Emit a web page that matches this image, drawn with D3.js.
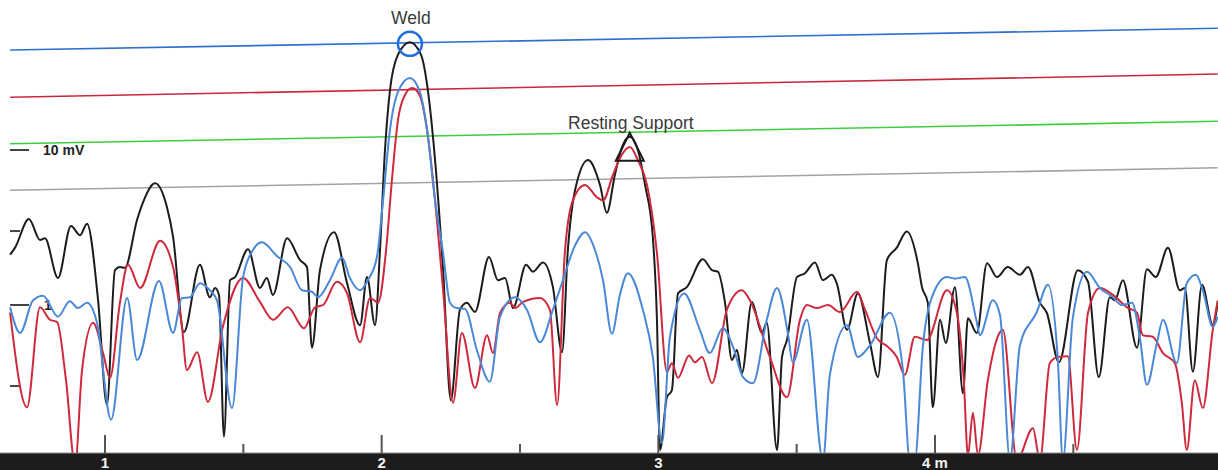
<!DOCTYPE html>
<html>
<head>
<meta charset="utf-8">
<script src="https://cdn.jsdelivr.net/npm/d3@7"></script>
<style>
  body { margin: 0; background: #fff; }
  svg { display: block; font-family: "Liberation Sans", Arial, sans-serif; }
</style>
</head>
<body>
<svg id="chart" width="1218" height="470"></svg>
<script>
// distance along pipe (m) / amplitude (dB re 1 mV)
const blackTrace = [
  [0.657,6.5],[0.675,7.4],[0.725,11.1],[0.765,8.4],[0.783,8.6],[0.830,3.5],[0.877,10.2],[0.910,9.0],
  [0.935,10.5],[0.975,0.6],[1.007,-12.9],[1.036,4.5],[1.054,4.9],[1.072,4.8],[1.116,11.0],[1.137,13.2],
  [1.181,15.7],[1.224,12.6],[1.246,8.8],[1.285,-3.5],[1.343,5.2],[1.379,1.0],[1.398,2.2],[1.412,1.3],
  [1.430,-17.0],[1.452,3.2],[1.470,3.6],[1.517,7.2],[1.560,2.2],[1.585,3.5],[1.607,1.3],[1.658,8.6],
  [1.705,5.8],[1.730,4.9],[1.748,-5.5],[1.777,4.5],[1.828,9.4],[1.875,2.8],[1.922,-2.6],[1.947,3.6],
  [1.976,-2.6],[1.994,7.1],[2.012,20.0],[2.030,27.7],[2.059,32.3],[2.102,33.9],[2.142,32.3],[2.167,27.7],
  [2.193,18.7],[2.222,4.5],[2.250,-12.3],[2.283,-0.6],[2.308,0.3],[2.337,-0.9],[2.388,6.2],[2.420,3.2],
  [2.446,3.5],[2.475,-0.4],[2.522,5.2],[2.547,4.3],[2.583,5.5],[2.619,2.3],[2.652,-6.1],[2.673,7.1],
  [2.699,14.8],[2.746,18.7],[2.789,15.5],[2.814,11.9],[2.843,16.8],[2.868,20.3],[2.897,21.7],[2.926,20.0],
  [2.952,15.5],[2.980,8.8],[2.995,-1.9],[3.006,-18.7],[3.031,-11.9],[3.049,-11.0],[3.071,1.5],[3.103,2.3],
  [3.161,5.9],[3.194,4.5],[3.215,4.3],[3.241,0.3],[3.266,-7.1],[3.284,-5.8],[3.302,-8.8],[3.338,0.4],
  [3.374,-3.6],[3.392,-2.3],[3.429,-18.7],[3.447,-6.7],[3.465,-4.5],[3.501,3.6],[3.530,4.1],[3.566,5.5],
  [3.595,3.2],[3.627,3.9],[3.645,2.8],[3.682,-3.2],[3.721,1.5],[3.765,-4.9],[3.794,-9.3],[3.826,5.8],
  [3.862,7.4],[3.898,9.5],[3.938,5.4],[3.953,2.3],[3.974,0.3],[3.992,-13.2],[4.018,-1.9],[4.039,-4.9],
  [4.072,2.3],[4.101,-11.4],[4.119,-1.7],[4.151,-3.6],[4.188,5.4],[4.224,3.6],[4.263,4.9],[4.307,3.9],
  [4.336,4.9],[4.379,0.3],[4.404,-1.0],[4.448,-7.4],[4.516,4.5],[4.553,3.0],[4.592,-9.3],[4.632,1.0],
  [4.650,0.6],[4.679,3.2],[4.730,-5.5],[4.766,4.6],[4.798,3.6],[4.842,7.4],[4.885,1.9],[4.903,2.2],
  [4.932,-8.6],[4.965,2.6],[5.004,-2.6],[5.022,0.3]
];

const redTrace = [
  [0.657,-1.0],[0.718,-13.2],[0.765,-0.3],[0.801,-1.9],[0.827,-2.2],[0.859,-9.7],[0.892,-20.6],[0.917,-8.4],
  [0.957,-2.3],[0.993,-6.2],[1.018,-9.4],[1.054,0.3],[1.083,5.2],[1.127,2.2],[1.199,8.3],[1.246,4.9],
  [1.278,-2.8],[1.296,-8.4],[1.333,-6.1],[1.372,-12.5],[1.426,-2.8],[1.499,3.5],[1.560,0.4],[1.607,-1.9],
  [1.661,-0.3],[1.719,-3.0],[1.759,-0.3],[1.788,0.0],[1.838,3.0],[1.875,1.5],[1.922,-4.8],[1.958,0.9],
  [1.987,0.3],[2.016,7.1],[2.037,16.1],[2.059,23.9],[2.084,27.1],[2.110,28.0],[2.138,27.0],[2.164,22.6],
  [2.193,13.5],[2.222,1.9],[2.258,-12.6],[2.290,-3.6],[2.337,-10.7],[2.381,-3.9],[2.402,-6.2],[2.428,-1.0],
  [2.464,0.3],[2.482,-0.4],[2.511,0.4],[2.572,0.9],[2.608,-0.6],[2.634,-12.9],[2.662,6.7],[2.691,13.5],
  [2.735,15.5],[2.778,13.9],[2.800,13.5],[2.836,16.8],[2.868,19.4],[2.897,20.4],[2.926,18.7],[2.959,15.5],
  [2.995,6.7],[3.031,-8.6],[3.049,-7.5],[3.071,-9.4],[3.111,-6.5],[3.132,-7.4],[3.158,-6.7],[3.194,-10.1],
  [3.248,-0.6],[3.302,1.9],[3.331,0.6],[3.403,-6.7],[3.465,-11.9],[3.512,-1.9],[3.537,0.0],[3.573,-0.4],
  [3.613,0.0],[3.656,-0.9],[3.718,1.7],[3.747,-0.6],[3.790,-4.3],[3.830,-5.4],[3.862,-6.7],[3.891,-9.0],
  [3.927,-4.1],[3.971,-4.5],[4.043,1.9],[4.079,-1.0],[4.104,-9.7],[4.119,-19.4],[4.137,-13.9],[4.155,-19.4],
  [4.191,-9.7],[4.235,-3.5],[4.245,-3.2],[4.296,-20.0],[4.354,-15.9],[4.379,-20.0],[4.415,-7.5],[4.444,-6.7],
  [4.480,-6.6],[4.513,-18.7],[4.553,-1.0],[4.596,2.2],[4.643,1.3],[4.694,-0.3],[4.730,-1.0],[4.751,-3.9],
  [4.787,-4.1],[4.824,-6.2],[4.867,-7.5],[4.892,-12.6],[4.910,-18.7],[4.939,-9.7],[4.968,-13.3],[5.004,-3.2],
  [5.022,0.6]
];

const blueTrace = [
  [0.657,-0.3],[0.693,-3.6],[0.740,0.6],[0.776,1.2],[0.830,-1.5],[0.873,0.5],[0.902,-0.4],[0.935,0.3],
  [0.971,-2.3],[1.022,-14.8],[1.080,0.9],[1.116,-7.1],[1.195,3.1],[1.246,-3.6],[1.278,0.9],[1.307,1.0],
  [1.343,2.8],[1.379,1.9],[1.405,0.6],[1.459,-13.3],[1.499,3.6],[1.535,7.1],[1.567,8.1],[1.622,6.3],
  [1.669,4.9],[1.712,1.9],[1.748,1.7],[1.770,1.0],[1.813,3.2],[1.857,6.1],[1.885,3.5],[1.922,1.9],
  [1.950,3.2],[1.983,6.2],[2.005,13.5],[2.030,22.6],[2.059,27.5],[2.102,29.3],[2.138,27.5],[2.164,22.6],
  [2.193,13.5],[2.222,6.7],[2.247,0.3],[2.272,-0.4],[2.301,-0.5],[2.344,-5.8],[2.391,-9.9],[2.428,-1.5],
  [2.482,1.0],[2.525,-0.6],[2.572,-4.8],[2.619,-0.6],[2.655,3.2],[2.699,7.7],[2.735,9.4],[2.771,7.1],
  [2.800,3.2],[2.832,-3.7],[2.861,1.3],[2.890,4.1],[2.944,-0.6],[2.980,-6.7],[3.013,-17.8],[3.042,-4.1],
  [3.093,1.5],[3.150,-3.2],[3.186,-6.2],[3.233,-3.0],[3.270,-5.4],[3.306,-9.3],[3.342,-10.1],[3.392,-1.9],
  [3.429,2.2],[3.468,-3.6],[3.486,-7.4],[3.537,-1.9],[3.595,-20.0],[3.620,-9.0],[3.682,-2.6],[3.721,-6.7],
  [3.765,-5.2],[3.837,-1.0],[3.884,-8.4],[3.909,-20.0],[3.927,-20.0],[3.956,-5.4],[3.992,1.3],[4.043,3.6],
  [4.072,3.4],[4.108,3.6],[4.151,-2.2],[4.162,-3.9],[4.209,0.6],[4.235,-1.3],[4.271,-20.0],[4.307,-5.2],
  [4.368,-0.9],[4.408,2.6],[4.444,-7.1],[4.462,-20.0],[4.498,-1.7],[4.549,4.3],[4.596,2.2],[4.643,1.0],
  [4.675,0.0],[4.712,0.3],[4.740,-4.1],[4.766,-10.3],[4.802,-4.9],[4.824,-1.9],[4.874,-7.5],[4.910,2.8],
  [4.943,3.9],[4.968,1.9],[5.004,-2.8],[5.022,-1.5]
];

// sloping threshold / DAC lines, dB at the first and last distance
const thresholdDist = [0.657, 5.022];
const thresholdStartDb = [32.9, 26.8, 20.8, 14.8];
const thresholdEndDb = [35.7, 29.8, 23.7, 17.7];

// axes
const xMajorTicks = [1, 2, 3, 4];
const xMajorLabels = ["1", "2", "3", "4 m"];
const xMinorTicks = [1.5, 2.5, 3.5, 4.5];
const yTickMv = [10, 3, 1, 0.3];
const yTickLabels = ["10 mV", "", "1", ""];

// feature markers
const markerLabels = ["Weld", "Resting Support"];
const markerDist = [2.102, 2.897];
const markerDb = [33.7, 21.7];

const W = 1218, H = 470, axisTop = 453;
const svg = d3.select("#chart");

const x = d3.scaleLinear().domain([1, 4]).range([105, 935]);
const y = d3.scaleLinear().domain([0, 20]).range([305, 150]);
const toDb = mv => 20 * Math.log10(mv);

svg.append("defs").append("clipPath").attr("id", "plotClip")
  .append("rect").attr("x", 0).attr("y", 0).attr("width", W).attr("height", axisTop);

const plot = svg.append("g").attr("clip-path", "url(#plotClip)");

// threshold lines
const thrColors = ["#2f6fd0", "#c8283e", "#3ccf3c", "#a3a3a3"];
thresholdStartDb.forEach(function(s, i) {
  plot.append("line")
    .attr("x1", x(thresholdDist[0])).attr("y1", y(s))
    .attr("x2", x(thresholdDist[1])).attr("y2", y(thresholdEndDb[i]))
    .attr("stroke", thrColors[i]).attr("stroke-width", 1.6);
});

// left amplitude ticks
const yTicks = plot.selectAll("g.ytick").data(yTickMv).enter()
  .append("g").attr("class", "ytick")
  .attr("transform", function(d) { return "translate(10," + y(toDb(d)) + ")"; });
yTicks.append("line")
  .attr("x1", 0).attr("x2", function(d, i) { return yTickLabels[i] ? 19 : 10; })
  .attr("stroke", "#444").attr("stroke-width", 2);
yTicks.append("text")
  .attr("x", function(d, i) { return i === 0 ? 33 : 34; })
  .attr("dy", "0.35em")
  .attr("font-size", 14).attr("font-weight", "bold").attr("fill", "#222")
  .text(function(d, i) { return yTickLabels[i]; });

// traces
const line = d3.line()
  .x(function(d) { return x(d[0]); })
  .y(function(d) { return y(d[1]); })
  .curve(d3.curveMonotoneX);

const traces = [
  { data: blackTrace, color: "#1c1c1c" },
  { data: redTrace, color: "#cf2a3c" },
  { data: blueTrace, color: "#4a88d8" }
];
traces.forEach(function(t) {
  plot.append("path").datum(t.data)
    .attr("d", line)
    .attr("fill", "none")
    .attr("stroke", t.color)
    .attr("stroke-width", 2)
    .attr("stroke-linejoin", "round");
});

// weld marker: circle on the peak
plot.append("circle")
  .attr("cx", x(markerDist[0])).attr("cy", y(markerDb[0]))
  .attr("r", 12)
  .attr("fill", "none").attr("stroke", "#1f6fd8").attr("stroke-width", 2.5);

// resting support marker: triangle on the peak
const tx = x(markerDist[1]), ty = y(markerDb[1]);
plot.append("path")
  .attr("d", "M" + tx + "," + (ty - 4) + "L" + (tx + 14) + "," + (ty + 24) + "L" + (tx - 14) + "," + (ty + 24) + "Z")
  .attr("fill", "none").attr("stroke", "#1a1a1a").attr("stroke-width", 2);

svg.selectAll("text.marker").data(markerLabels).enter()
  .append("text").attr("class", "marker")
  .attr("x", function(d, i) { return x(markerDist[i]) + 1; })
  .attr("y", function(d, i) { return i === 0 ? y(markerDb[i]) - 20 : y(markerDb[i]) - 8; })
  .attr("text-anchor", "middle")
  .attr("font-size", 17.5).attr("fill", "#3a3a3a")
  .text(function(d) { return d; });

// bottom distance axis bar
svg.append("rect")
  .attr("x", 0).attr("y", axisTop).attr("width", W).attr("height", H - axisTop)
  .attr("fill", "#1e1c1a");
svg.append("line")
  .attr("x1", 0).attr("x2", W).attr("y1", axisTop).attr("y2", axisTop)
  .attr("stroke", "#8a8a8a").attr("stroke-width", 1);

svg.selectAll("line.xmajor").data(xMajorTicks).enter()
  .append("line").attr("class", "xmajor")
  .attr("x1", function(d) { return x(d); }).attr("x2", function(d) { return x(d); })
  .attr("y1", 435).attr("y2", axisTop)
  .attr("stroke", "#555").attr("stroke-width", 2);
svg.selectAll("line.xminor").data(xMinorTicks).enter()
  .append("line").attr("class", "xminor")
  .attr("x1", function(d) { return x(d); }).attr("x2", function(d) { return x(d); })
  .attr("y1", 444).attr("y2", axisTop)
  .attr("stroke", "#555").attr("stroke-width", 2);

svg.selectAll("text.xlabel").data(xMajorTicks).enter()
  .append("text").attr("class", "xlabel")
  .attr("x", function(d) { return x(d); })
  .attr("y", 468)
  .attr("text-anchor", "middle")
  .attr("font-size", 15).attr("font-weight", "bold").attr("fill", "#f2f2f2")
  .text(function(d, i) { return xMajorLabels[i]; });
</script>
</body>
</html>
